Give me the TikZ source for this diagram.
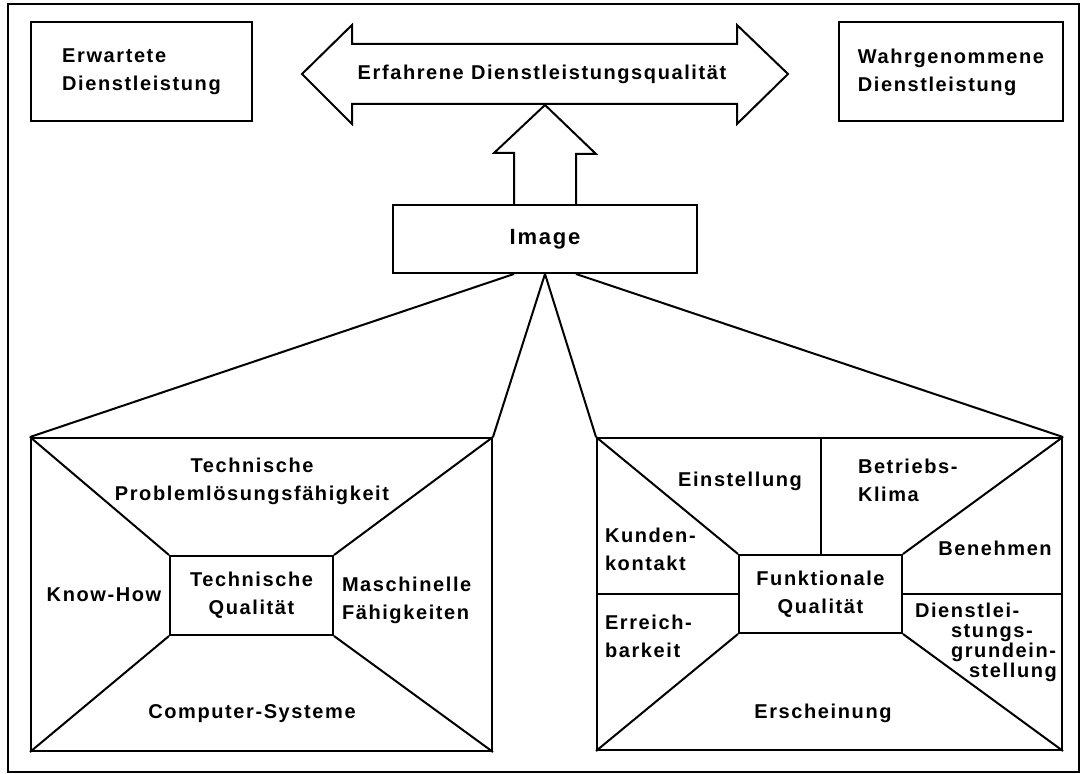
\documentclass[tikz,border=0pt]{standalone}
\usepackage{fontspec}
\setmainfont{Liberation Sans}[LetterSpace=8]
\usetikzlibrary{calc}

\tikzset{
  box/.style={draw, inner sep=0pt},
  txt/.style={font=\bfseries\fontsize{10}{14}\selectfont, align=left, inner sep=0pt},
}

\begin{document}
\begin{tikzpicture}[x=0.5pt, y=-0.5pt, line width=1pt]
\useasboundingbox (0,0) rectangle (1084,774);
\draw (8,4) rectangle (1079,772);

% top row
\node [box, txt, minimum width=110.5pt, minimum height=49.5pt] (erw) at (141.5,72) {Erwartete\\Dienstleistung};
\node [box, txt, minimum width=112pt, minimum height=49.5pt] (wahr) at (951,72) {Wahrgenommene\\Dienstleistung};
\draw (302,74) -- (352,25) -- (352,44) -- (737,44) -- (737,25) -- (788,74)
  -- (737,124) -- (737,104) -- (352,104) -- (352,124) -- cycle;
\node [txt] (erf) at (542,74) {Erfahrene Dienstleistungsqualität};

% image
\node [box, txt, font=\bfseries\fontsize{11}{14}\selectfont, minimum width=152pt, minimum height=34pt] (img) at (545,239) {Image};
\draw ($(img.north)+(-31,0)$) -- ++(0,-51) -- ++(-20,0) -- (545,105)
  -- (596,154) -- ++(-20,0) -- ($(img.north)+(31,0)$);

% the two quality boxes
\node [box, minimum width=230.5pt, minimum height=156.5pt] (tq) at (261.5,594.5) {};
\node [box, minimum width=232.5pt, minimum height=156pt] (fq) at (829.5,594) {};
\node [box, txt, align=center, minimum width=81.5pt, minimum height=39.5pt] (tqi) at (251.5,595.5) {Technische\\Qualität};
\node [box, txt, align=center, minimum width=81.5pt, minimum height=39pt] (fqi) at (820.5,594) {Funktionale\\Qualität};

\draw ($(img.south)+(-31,0)$) -- (tq.north west);
\draw (img.south) -- (tq.north east);
\draw (img.south) -- (fq.north west);
\draw ($(img.south)+(31,0)$) -- (fq.north east);

\foreach \c in {north west, north east, south west, south east} {
  \draw (tq.\c) -- (tqi.\c);
  \draw (fq.\c) -- (fqi.\c);
}
\draw (fqi.north) -- (fqi.north |- fq.north);
\draw (fqi.west) -- (fqi.west -| fq.west);
\draw (fqi.east) -- (fqi.east -| fq.east);

% technische qualitaet
\node [txt, align=center] (tp) at (252,481.5) {Technische\\Problemlösungsfähigkeit};
\node [txt] (kh) at (104,595) {Know-How};
\node [txt, anchor=west] (mf) at (341,600) {Maschinelle\\Fähigkeiten};
\node [txt] (cs) at (252,714) {Computer-Systeme};

% funktionale qualitaet
\node [txt] (ein) at (740,481) {Einstellung};
\node [txt, anchor=west] (bk) at (857,480) {Betriebs-\\Klima};
\node [txt, anchor=west] (kk) at (604,549) {Kunden-\\kontakt};
\node [txt] (ben) at (995,548) {Benehmen};
\node [txt, anchor=west] (eb) at (604,636) {Erreich-\\barkeit};
\node [txt, anchor=west, font=\bfseries\fontsize{10}{10}\selectfont] (dg) at (914,642.5)
  {Dienstlei-\\\hspace*{18pt}stungs-\\\hspace*{18pt}grundein-\\\hspace*{27pt}stellung};
\node [txt] (ers) at (823,713) {Erscheinung};
\end{tikzpicture}
\end{document}
